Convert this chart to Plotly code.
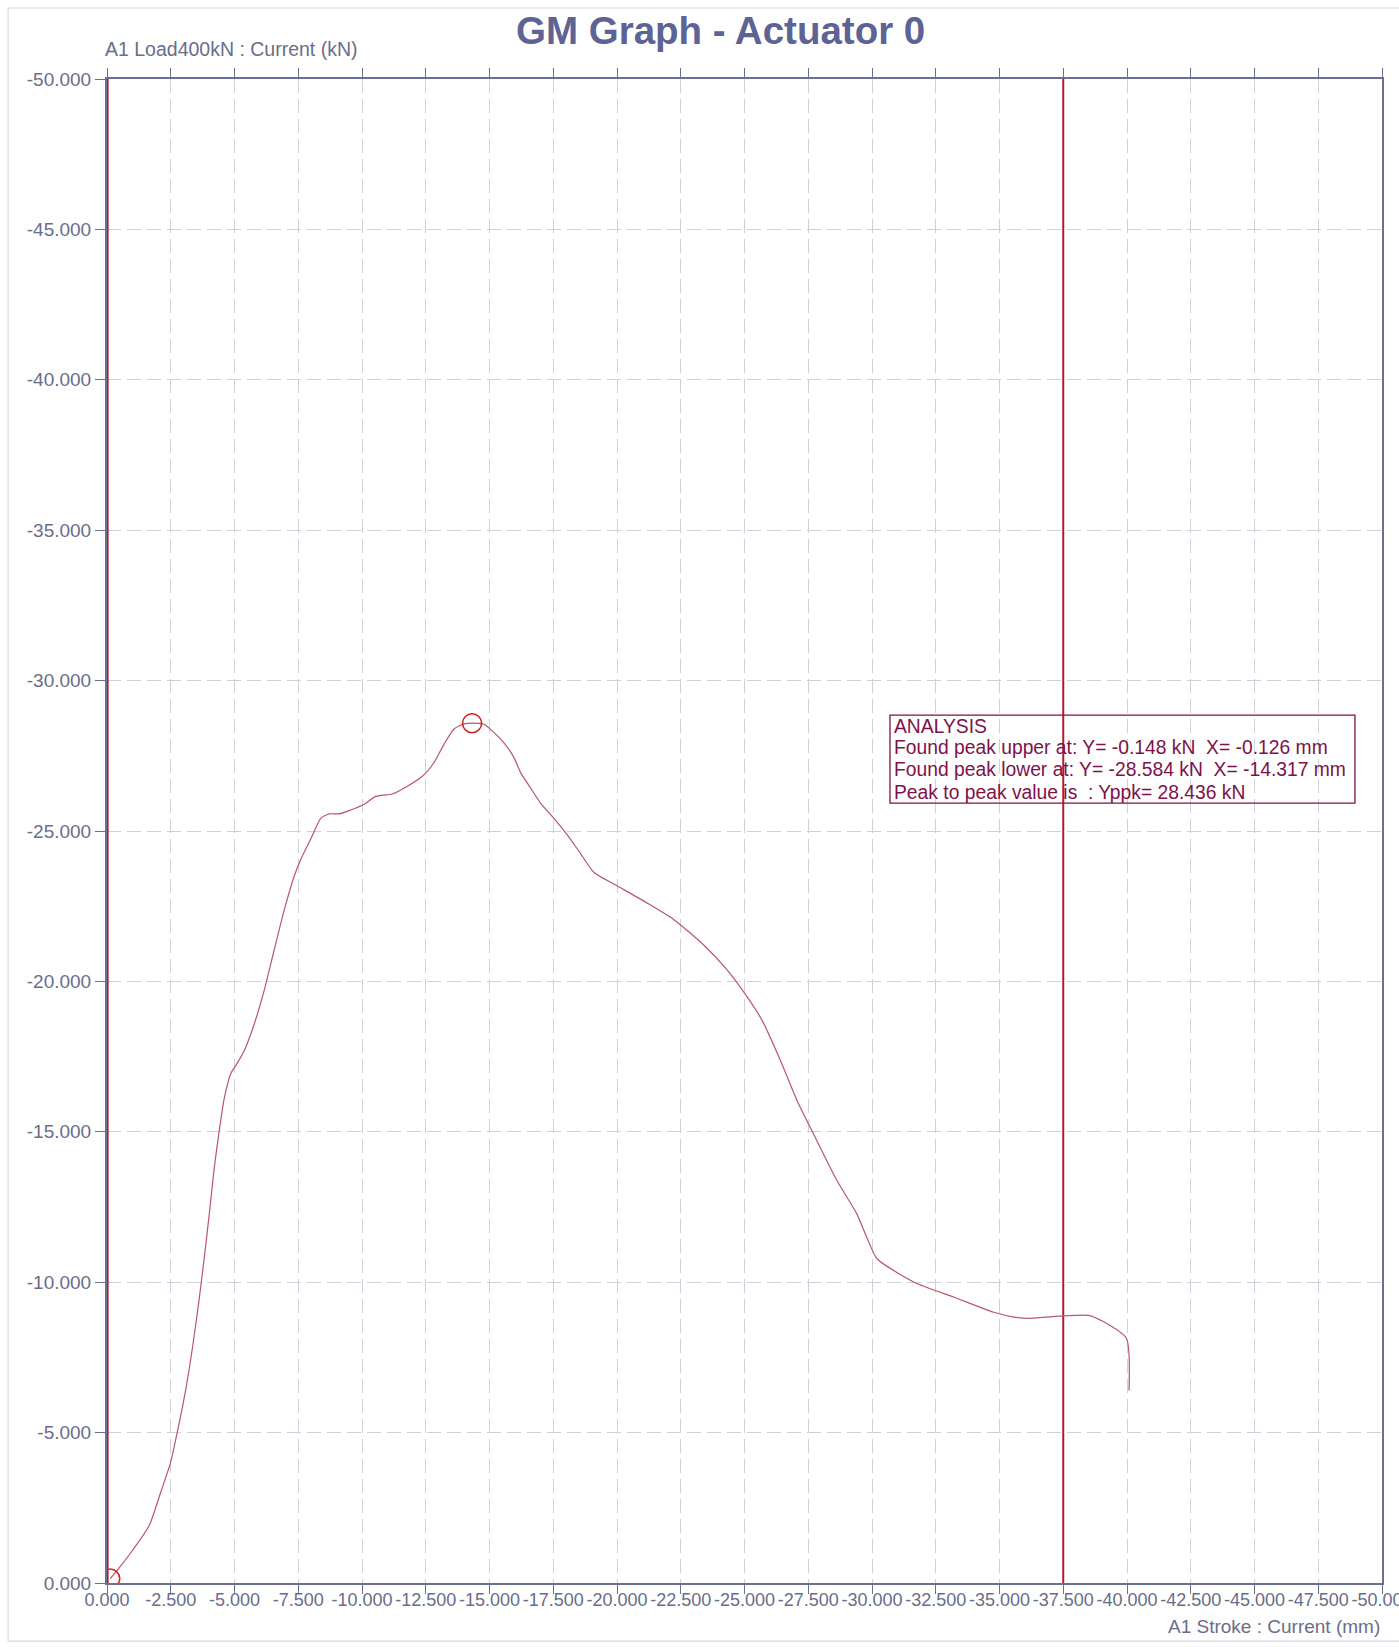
import plotly.graph_objects as go

# Load vs. stroke record for actuator 0 (mm, kN)
stroke_mm = [-0.126, -0.5, -1.0, -1.65, -2.1, -2.48, -2.78, -3.1, -3.36, -3.62,
             -3.82, -4.02, -4.21, -4.40, -4.60, -4.86, -5.05, -5.39, -5.78, -6.17,
             -6.56, -6.96, -7.35, -7.61, -8.0, -8.39, -8.72, -9.11, -9.56, -10.09,
             -10.54, -11.19, -11.78, -12.37, -12.82, -13.22, -13.61, -14.0, -14.317, -14.78,
             -15.17, -15.56, -15.96, -16.22, -16.61, -17.0, -17.52, -18.05, -18.57, -19.1,
             -20.0, -21.17, -22.22, -23.39, -24.31, -25.09, -25.68, -26.4, -27.05, -27.7,
             -28.62, -29.4, -29.79, -30.2, -31.65, -33.22, -34.78, -35.56, -36.2, -37.5,
             -38.48, -39.07, -39.98, -40.08]
load_kn = [-0.148, -0.53, -1.08, -1.90, -3.0, -3.97, -5.11, -6.49, -7.87, -9.47,
           -10.85, -12.34, -13.83, -15.03, -16.12, -16.95, -17.2, -17.71, -18.6, -19.72,
           -21.06, -22.4, -23.52, -24.08, -24.75, -25.43, -25.57, -25.57, -25.70, -25.89,
           -26.15, -26.23, -26.49, -26.82, -27.27, -27.89, -28.39, -28.56, -28.584, -28.55,
           -28.28, -27.94, -27.44, -26.94, -26.43, -25.93, -25.43, -24.87, -24.25, -23.62,
           -23.18, -22.61, -22.06, -21.22, -20.39, -19.5, -18.72, -17.39, -16.06, -14.94,
           -13.39, -12.28, -11.5, -10.78, -10.0, -9.50, -9.0, -8.84, -8.8, -8.88,
           -8.9, -8.69, -8.13, -6.4]

# Peak analysis results
peak_upper = {"y": -0.148, "x": -0.126}
peak_lower = {"y": -28.584, "x": -14.317}
peak_x = [peak_upper["x"], peak_lower["x"]]
peak_y = [peak_upper["y"], peak_lower["y"]]
yppk = round(peak_upper["y"] - peak_lower["y"], 3)

# Cursor positions (mm)
cursor_x = [0.0, -37.5]
cursor_width = [3.2, 2.0]

# Axis ticks
x_ticks = [-2.5 * i for i in range(21)]
y_ticks = [-5.0 * i for i in range(11)]
x_tick_text = ["%.3f" % abs(v) if v == 0 else "%.3f" % v for v in x_ticks]
y_tick_text = ["%.3f" % abs(v) if v == 0 else "%.3f" % v for v in y_ticks]

FONT = "Liberation Sans, Arial, sans-serif"
AXIS_COL = "#6c7090"
LABEL_COL = "#6a6d8a"
GRID_COL = "#cfd0dc"
TEXT_COL = "#7e1249"

fig = go.Figure()

# cursor lines spanning the full load range
for cx, w in zip(cursor_x, cursor_width):
    fig.add_trace(go.Scatter(x=[cx, cx], y=[y_ticks[0], y_ticks[-1]], mode="lines",
                             line=dict(color="#b01c2e", width=w), hoverinfo="skip",
                             showlegend=False))

fig.add_trace(go.Scatter(x=stroke_mm, y=load_kn, mode="lines", line_shape="spline",
                         line=dict(color="#b8566f", width=1.2, smoothing=0.6),
                         showlegend=False))

fig.add_trace(go.Scatter(x=peak_x, y=peak_y, mode="markers",
                         marker=dict(symbol="circle-open", size=19, color="#d22a2a",
                                     line=dict(width=1.6, color="#d22a2a")),
                         showlegend=False))

fig.update_xaxes(range=[0, -50], tickvals=x_ticks, ticktext=x_tick_text, tickangle=0,
                 showgrid=True, gridcolor=GRID_COL, griddash="14px,6px", gridwidth=1,
                 zeroline=False, showline=True, linecolor=AXIS_COL, linewidth=2,
                 mirror="ticks", ticks="outside", ticklen=9, tickcolor=AXIS_COL,
                 tickwidth=1, ticklabelstandoff=-10, ticklabeloverflow="allow",
                 tickfont=dict(family=FONT, size=18, color=LABEL_COL))
fig.update_yaxes(range=[0, -50], tickvals=y_ticks, ticktext=y_tick_text,
                 showgrid=True, gridcolor=GRID_COL, griddash="14px,6px", gridwidth=1,
                 zeroline=False, showline=True, linecolor=AXIS_COL, linewidth=2,
                 mirror=True, ticks="outside", ticklen=10, tickcolor=AXIS_COL,
                 tickwidth=1, tickfont=dict(family=FONT, size=19, color=LABEL_COL))

annotations = [
    dict(text="<b>GM Graph - Actuator 0</b>", x=0.4808, y=1.0325, xref="paper",
         yref="paper", xanchor="center", yanchor="middle", showarrow=False,
         font=dict(family=FONT, size=38.5, color="#5d6394")),
    dict(text="A1 Load400kN : Current (kN)", x=-0.003, y=1.02, xref="paper",
         yref="paper", xanchor="left", yanchor="middle", showarrow=False,
         font=dict(family=FONT, size=19.5, color=LABEL_COL)),
    dict(text="A1 Stroke : Current (mm)", x=1.0, y=-0.0286, xref="paper",
         yref="paper", xanchor="right", yanchor="middle", showarrow=False,
         font=dict(family=FONT, size=19, color=LABEL_COL)),
]

analysis_lines = [
    "ANALYSIS",
    "Found peak upper at: Y= %.3f kN&nbsp; X= %.3f mm" % (peak_upper["y"], peak_upper["x"]),
    "Found peak lower at: Y= %.3f kN&nbsp; X= %.3f mm" % (peak_lower["y"], peak_lower["x"]),
    "Peak to peak value is&nbsp; : Yppk= %.3f kN" % yppk,
]
line_y = [0.5698, 0.5552, 0.5406, 0.5259]
for txt, ly in zip(analysis_lines, line_y):
    annotations.append(dict(text=txt, x=0.6157, y=ly, xref="paper", yref="paper",
                            xanchor="left", yanchor="middle", showarrow=False,
                            font=dict(family=FONT, size=19.3, color=TEXT_COL)))

shapes = [
    dict(type="rect", xref="paper", yref="paper", x0=0.6141, x1=0.9788,
         y0=0.5186, y1=0.5771, line=dict(color=TEXT_COL, width=1.3),
         fillcolor="rgba(255,255,255,0)"),
    # page frame
    dict(type="rect", xref="paper", yref="paper", x0=-0.0776, x1=1.05,
         y0=-0.0386, y1=1.0472, line=dict(color="#d6d7e0", width=1.2),
         fillcolor="rgba(0,0,0,0)", layer="below"),
]

fig.update_layout(width=1399, height=1647,
                  margin=dict(l=107, r=17, t=79, b=64, autoexpand=False),
                  paper_bgcolor="white", plot_bgcolor="white",
                  annotations=annotations, shapes=shapes, showlegend=False,
                  font=dict(family=FONT))

fig.write_html("out.html")
